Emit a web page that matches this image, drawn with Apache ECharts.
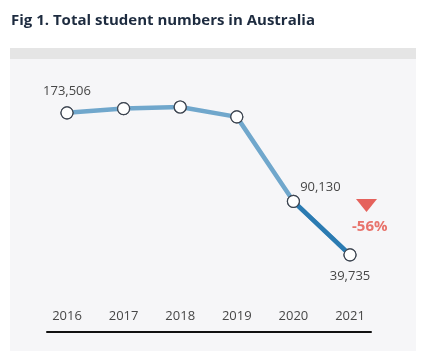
<!DOCTYPE html>
<html>
<head>
<meta charset="utf-8">
<script src="https://cdn.jsdelivr.net/npm/echarts@6/dist/echarts.min.js"></script>
<style>
	html, body { margin: 0; padding: 0; background: #fff; }
	#chart { width: 422px; height: 351px; }
</style>
</head>
<body>
<div id="chart"></div>
<script>
var years = ['2016', '2017', '2018', '2019', '2020', '2021'];
var students = [173506, 177500, 179000, 169700, 90130, 39735];
// only the last year-on-year drop is highlighted
var lastDrop = [null, null, null, null, 90130, 39735];
var labelled = { 0: 'top', 4: 'right', 5: 'bottom' };

var myChart = echarts.init(document.getElementById('chart'));

var fmt = function(v) {
	return v.toLocaleString('en-US');
};
var change = Math.round((students[5] - students[4]) / students[4] * 100);

var mainData = students.map(function(v, i) {
	var item = { value: v };
	if(labelled[i] === 'top') {
		item.label = { show: true, position: 'top', distance: 8 };
	} else if(labelled[i] === 'right') {
		item.label = { show: true, position: 'top', distance: 1, offset: [27, 0] };
	} else if(labelled[i] === 'bottom') {
		item.label = { show: true, position: 'bottom', distance: 8 };
	}
	return item;
});

var option = {
	backgroundColor: '#fff',
	textStyle: { fontFamily: 'Open Sans' },
	title: {
		text: 'Fig 1. Total student numbers in Australia',
		left: 6,
		top: 8,
		textStyle: { fontSize: 15, fontWeight: 'bold', color: '#1d2b3f', fontFamily: 'Open Sans' }
	},
	graphic: [
		{ type: 'rect', left: 10, top: 48, z: -10, shape: { width: 406, height: 11 }, style: { fill: '#e5e5e5' } },
		{ type: 'rect', left: 10, top: 59, z: -10, shape: { width: 406, height: 292 }, style: { fill: '#f6f6f8' } },
		{ type: 'polygon', z: 10, shape: { points: [[356, 199], [377, 199], [366.5, 212]] }, style: { fill: '#e5625c' } },
		{ type: 'text', left: 352, top: 219, z: 10, style: { text: change + '%', fill: '#e8736b', fontSize: 15, fontWeight: 'bold', fontFamily: 'Open Sans' } }
	],
	grid: [
		{ left: 38.7, right: 43.7, top: 79.4, bottom: 20 },
		{ left: 47, right: 51, bottom: 19.5, height: 10 }
	],
	xAxis: [{
		type: 'category',
		data: years,
		boundaryGap: true,
		axisLine: { show: false },
		axisTick: { show: false },
		axisLabel: { inside: true, margin: 8, color: '#474747', fontSize: 13 }
	}, {
		type: 'value',
		gridIndex: 1,
		min: 0,
		max: 1,
		axisLine: { show: true, lineStyle: { color: '#111', width: 2 } },
		axisTick: { show: false },
		axisLabel: { show: false },
		splitLine: { show: false }
	}],
	yAxis: [{
		type: 'value',
		min: -32000,
		max: 205000,
		show: false
	}, {
		type: 'value',
		gridIndex: 1,
		show: false
	}],
	series: [{
		name: 'students',
		type: 'line',
		data: mainData,
		symbol: 'circle',
		symbolSize: 12,
		lineStyle: { color: '#70a7cc', width: 4.5 },
		itemStyle: { color: '#fff', borderColor: '#3c4450', borderWidth: 1.2 },
		label: {
			show: false,
			color: '#474747',
			fontSize: 13,
			formatter: function(p) { return fmt(p.value); }
		},
		z: 3
	}, {
		name: 'drop',
		type: 'line',
		data: lastDrop,
		symbol: 'none',
		lineStyle: { color: '#2b7bb2', width: 4.5 },
		z: 4
	}, {
		// redraw markers above the dark segment
		name: 'markers',
		type: 'line',
		data: students,
		symbol: 'circle',
		symbolSize: 12,
		lineStyle: { width: 0, opacity: 0 },
		itemStyle: { color: '#fff', borderColor: '#3c4450', borderWidth: 1.2 },
		z: 5
	}]
};
myChart.setOption(option);
</script>
</body>
</html>
